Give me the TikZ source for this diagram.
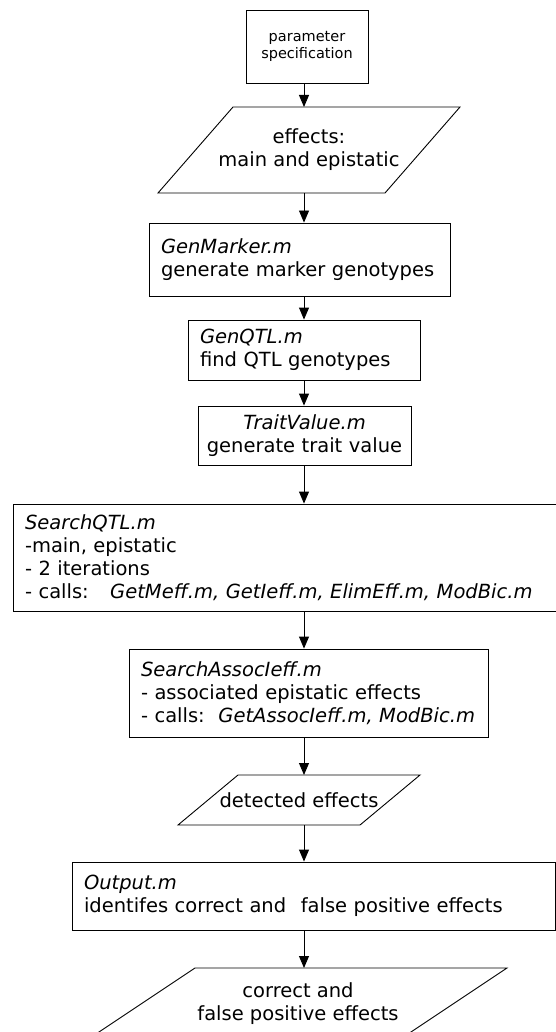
\documentclass[tikz,border=0pt]{standalone}
\usepackage{fontspec}
\setmainfont{DejaVu Sans}
\usetikzlibrary{arrows.meta}
\begin{document}
\begin{tikzpicture}[x=1pt,y=-1pt,
  mainfnt/.style={font=\fontsize{19.5}{23}\selectfont},
  box/.style={draw, line width=0.9pt, inner xsep=12pt, inner ysep=2pt, align=left, mainfnt},
  cbox/.style={box, align=center},
  ptext/.style={align=center, mainfnt, inner sep=0pt},
  para/.style={draw, line width=0.9pt},
  arr/.style={line width=0.9pt, -{Triangle[length=12pt,width=10pt]}},
]
\useasboundingbox (0,0) rectangle (556,1032);
\clip (0,0) rectangle (556,1032);
\coordinate (axis) at (304,0);

% parameter specification
\node[cbox, font=\fontsize{14.5}{17.5}\selectfont, text width=98pt, minimum height=73pt] (param) at (307,46.5) {parameter\\specification};

% effects parallelogram
\path[para] (233,107) -- (460,107) -- (385,193) -- (158,193) -- cycle;
\node[ptext] (eff) at (309,150) {effects:\\main and epistatic};
\coordinate (effN) at (304,107);
\coordinate (effS) at (304,193);

\node[box, text width=277pt, minimum height=73pt] (gm) at (299.5,259.5) {\textit{GenMarker.m}\\generate marker genotypes};
\node[box, text width=208pt, minimum height=60pt] (gq) at (304,350) {\textit{GenQTL.m}\\find QTL genotypes};
\node[cbox, inner xsep=3pt, text width=207pt, minimum height=59pt] (tv) at (304.5,435.5) {\textit{TraitValue.m}\\generate trait value};
\node[box, text width=521pt, minimum height=107pt] (sq) at (285.5,557.5) {\textit{SearchQTL.m}\\-main, epistatic\\- 2 iterations\\\mbox{- calls:\hspace{1.1em}\textit{GetMeff.m, GetIeff.m, ElimEff.m, ModBic.m}}};
\node[box, inner xsep=0pt, text width=335pt, minimum width=359pt, minimum height=88pt] (sa) at (308.5,693) {\textit{SearchAssocIeff.m}\\- associated epistatic effects\\\mbox{- calls:\hspace{0.7em}\textit{GetAssocIeff.m, ModBic.m}}};

% detected effects parallelogram
\path[para] (238,775) -- (420,775) -- (360,825) -- (178,825) -- cycle;
\node[ptext] (det) at (299,800) {detected effects};
\coordinate (detN) at (304,775);
\coordinate (detS) at (304,825);

\node[box, text width=459pt, minimum height=68pt] (out) at (313.5,896) {\textit{Output.m}\\identifes correct and\hspace{0.75em}false positive effects};

% final parallelogram
\path[para] (195,968) -- (507,968) -- (384,1050) -- (72,1050) -- cycle;
\node[ptext] (fin) at (298,1004) {correct and\\false positive effects};
\coordinate (finN) at (304,968);

% connectors
\draw[arr] (axis |- param.south) -- (effN);
\draw[arr] (effS) -- (axis |- gm.north);
\draw[arr] (axis |- gm.south) -- (axis |- gq.north);
\draw[arr] (axis |- gq.south) -- (axis |- tv.north);
\draw[arr] (axis |- tv.south) -- (axis |- sq.north);
\draw[arr] (axis |- sq.south) -- (axis |- sa.north);
\draw[arr] (axis |- sa.south) -- (detN);
\draw[arr] (detS) -- (axis |- out.north);
\draw[arr] (axis |- out.south) -- (finN);
\end{tikzpicture}
\end{document}
